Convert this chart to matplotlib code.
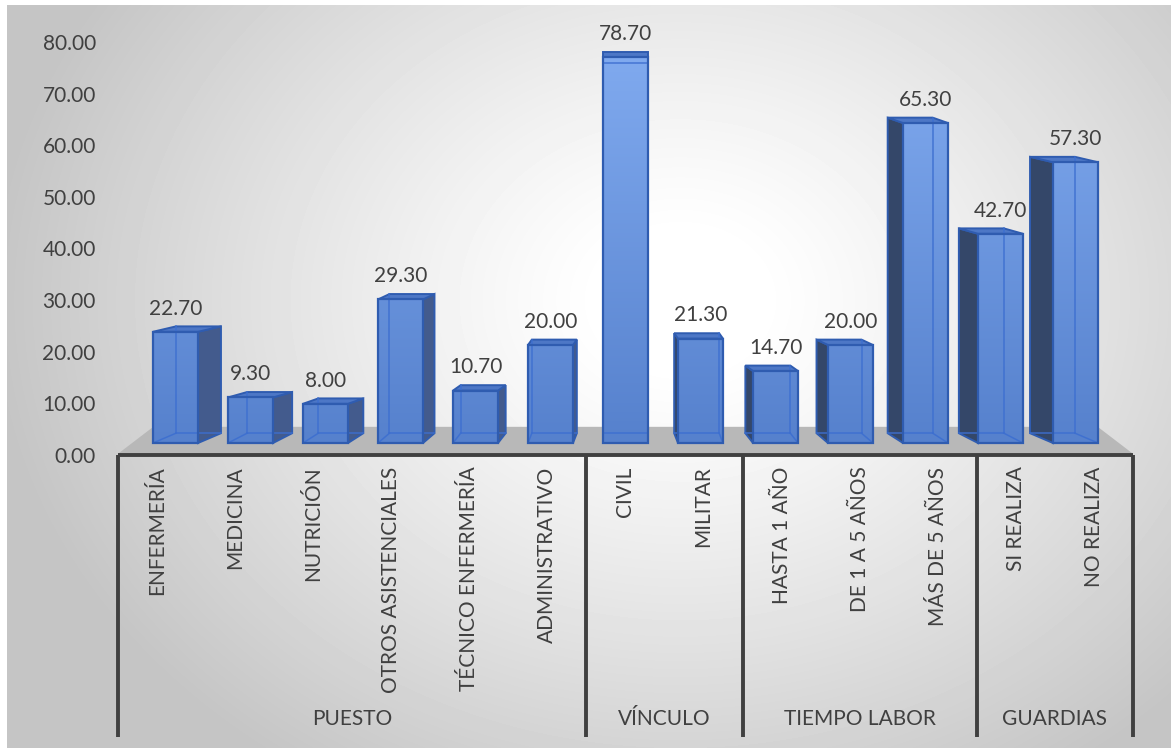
import numpy as np
import matplotlib.pyplot as plt
from matplotlib.patches import Polygon, Rectangle
from matplotlib.colors import LinearSegmentedColormap
from matplotlib.ticker import FormatStrFormatter

plt.rcParams['font.family'] = ['Lato', 'DejaVu Sans']

# datos del grafico
categorias = ['ENFERMERÍA', 'MEDICINA', 'NUTRICIÓN', 'OTROS ASISTENCIALES',
              'TÉCNICO ENFERMERÍA', 'ADMINISTRATIVO', 'CIVIL', 'MILITAR',
              'HASTA 1 AÑO', 'DE 1 A 5 AÑOS', 'MÁS DE 5 AÑOS',
              'SI REALIZA', 'NO REALIZA']
valores = [22.70, 9.30, 8.00, 29.30, 10.70, 20.00, 78.70, 21.30,
           14.70, 20.00, 65.30, 42.70, 57.30]
grupos = ['PUESTO', 'VÍNCULO', 'TIEMPO LABOR', 'GUARDIAS']
tam_grupos = [6, 2, 3, 2]

W, H = 1171, 754
texto = '#404040'
fs = 15
n = len(categorias)
centro = (n - 1) / 2

fig = plt.figure(figsize=(W / 100, H / 100), dpi=100)
fig.patch.set_facecolor('white')

# fondo con degradado radial (blanco al centro, gris en los bordes)
bg = fig.add_axes([7 / W, 6 / H, 1164 / W, 743 / H])
yy, xx = np.mgrid[0:743, 0:1164]
d = np.sqrt(((xx - 673) / 780) ** 2 + ((yy - 295) / 640) ** 2)
t = np.clip((d - 0.1) / 0.78, 0, 1) ** 1.15
bg.imshow((255 - 58 * t) / 255, cmap='gray', vmin=0, vmax=1, aspect='auto')
bg.axis('off')
bg.set_zorder(0)

pos = [118 / W, (H - 455) / H, 1015 / W, 413 / H]

# eje principal: escala 0-80 y etiquetas de categorias
ax = fig.add_axes(pos)
ax.set_facecolor('none')
ax.set_zorder(2)
ax.set_xlim(-0.5, n - 0.5)
ax.set_ylim(0, 80)
ax.set_yticks(np.arange(0, 81, 10))
ax.yaxis.set_major_formatter(FormatStrFormatter('%.2f'))
ax.tick_params(axis='y', length=0, pad=16, labelsize=fs, labelcolor=texto)
ax.set_xticks([])
for s in ax.spines.values():
    s.set_visible(False)

tr = ax.get_xaxis_transform()
ax.plot([-0.5, n - 0.5], [0, 0], transform=tr, color=texto, lw=2.8,
        clip_on=False, solid_capstyle='butt')
for i, cat in enumerate(categorias):
    ax.text(i, -0.028, cat, rotation=90, ha='center', va='top', transform=tr,
            fontsize=fs, color=texto)

limites = np.concatenate([[0], np.cumsum(tam_grupos)]) - 0.5
for b in limites:
    ax.plot([b, b], [0, -0.683], transform=tr, color=texto, lw=2.8,
            clip_on=False, solid_capstyle='butt')
for g, a, b in zip(grupos, limites[:-1], limites[1:]):
    ax.text((a + b) / 2, -0.64, g, ha='center', va='center', transform=tr,
            fontsize=fs, color=texto)

# eje de las barras 3D (perspectiva: barras algo mas juntas que las etiquetas)
px_unidad = 4.9
bx = fig.add_axes(pos)
bx.set_facecolor('none')
bx.set_zorder(1)
bx.axis('off')
persp = 75 / 78.08
x0, x1 = centro - n / 2 / persp, centro + n / 2 / persp
y0, y1 = -12 / px_unidad, 401 / px_unidad

# piso gris
bx.add_patch(Polygon([(x0, -2.2), (x1, -2.2), (x1 - 0.47, 3.3), (x0 + 0.47, 3.3)],
                     closed=True, facecolor='#b8b8b8', edgecolor='none', zorder=1))

cmap = LinearSegmentedColormap.from_list('azul', ['#5681cd', '#80aaef'])
hw = 0.3
db, dt = 2.0, 1.1
borde = '#2f5cb0'
for i, v in enumerate(valores):
    dx = (centro - i) * 0.051
    # cara lateral oscura
    if dx > 0:
        xs = i + hw
        lado = '#435b8d'
    else:
        xs = i - hw
        lado = '#344769'
    if dx != 0:
        bx.add_patch(Polygon([(xs, 0), (xs + dx, db), (xs + dx, v + dt), (xs, v)],
                             closed=True, facecolor=lado, edgecolor=borde,
                             lw=1.4, zorder=2))
    # cara superior
    bx.add_patch(Polygon([(i - hw, v), (i + hw, v), (i + hw + dx, v + dt), (i - hw + dx, v + dt)],
                         closed=True, facecolor='#4d77c6', edgecolor=borde,
                         lw=1.4, zorder=2))
    # cara frontal con degradado
    grad = np.linspace(v, 0, 100).reshape(-1, 1) / 80
    bx.imshow(grad, extent=(i - hw, i + hw, 0, v), cmap=cmap, vmin=0, vmax=1,
              aspect='auto', zorder=3, interpolation='bilinear')
    # aristas traseras vistas por transparencia
    bk = dict(color='#3d6fd0', lw=1.1, alpha=0.9, zorder=4)
    bx.plot([i - hw + dx, i + hw + dx], [db, db], **bk)
    xb = i - hw + dx if dx > 0 else i + hw + dx
    xf = i - hw if dx > 0 else i + hw
    if dx != 0:
        bx.plot([xb, xb], [db, v + dt], **bk)
        bx.plot([xf, xb], [0, db], **bk)
    else:
        bx.plot([i - hw, i + hw], [v - dt, v - dt], **bk)
    bx.add_patch(Rectangle((i - hw, 0), 2 * hw, v, facecolor='none',
                           edgecolor=borde, lw=1.6, zorder=5))
    bx.annotate(f'{v:.2f}', (i, v + dt), xytext=(0, 8.5), textcoords='offset points',
                ha='center', va='baseline', fontsize=fs, color=texto, zorder=6)

bx.set_xlim(x0, x1)
bx.set_ylim(y0, y1)

fig.savefig('out.png', dpi=100)
